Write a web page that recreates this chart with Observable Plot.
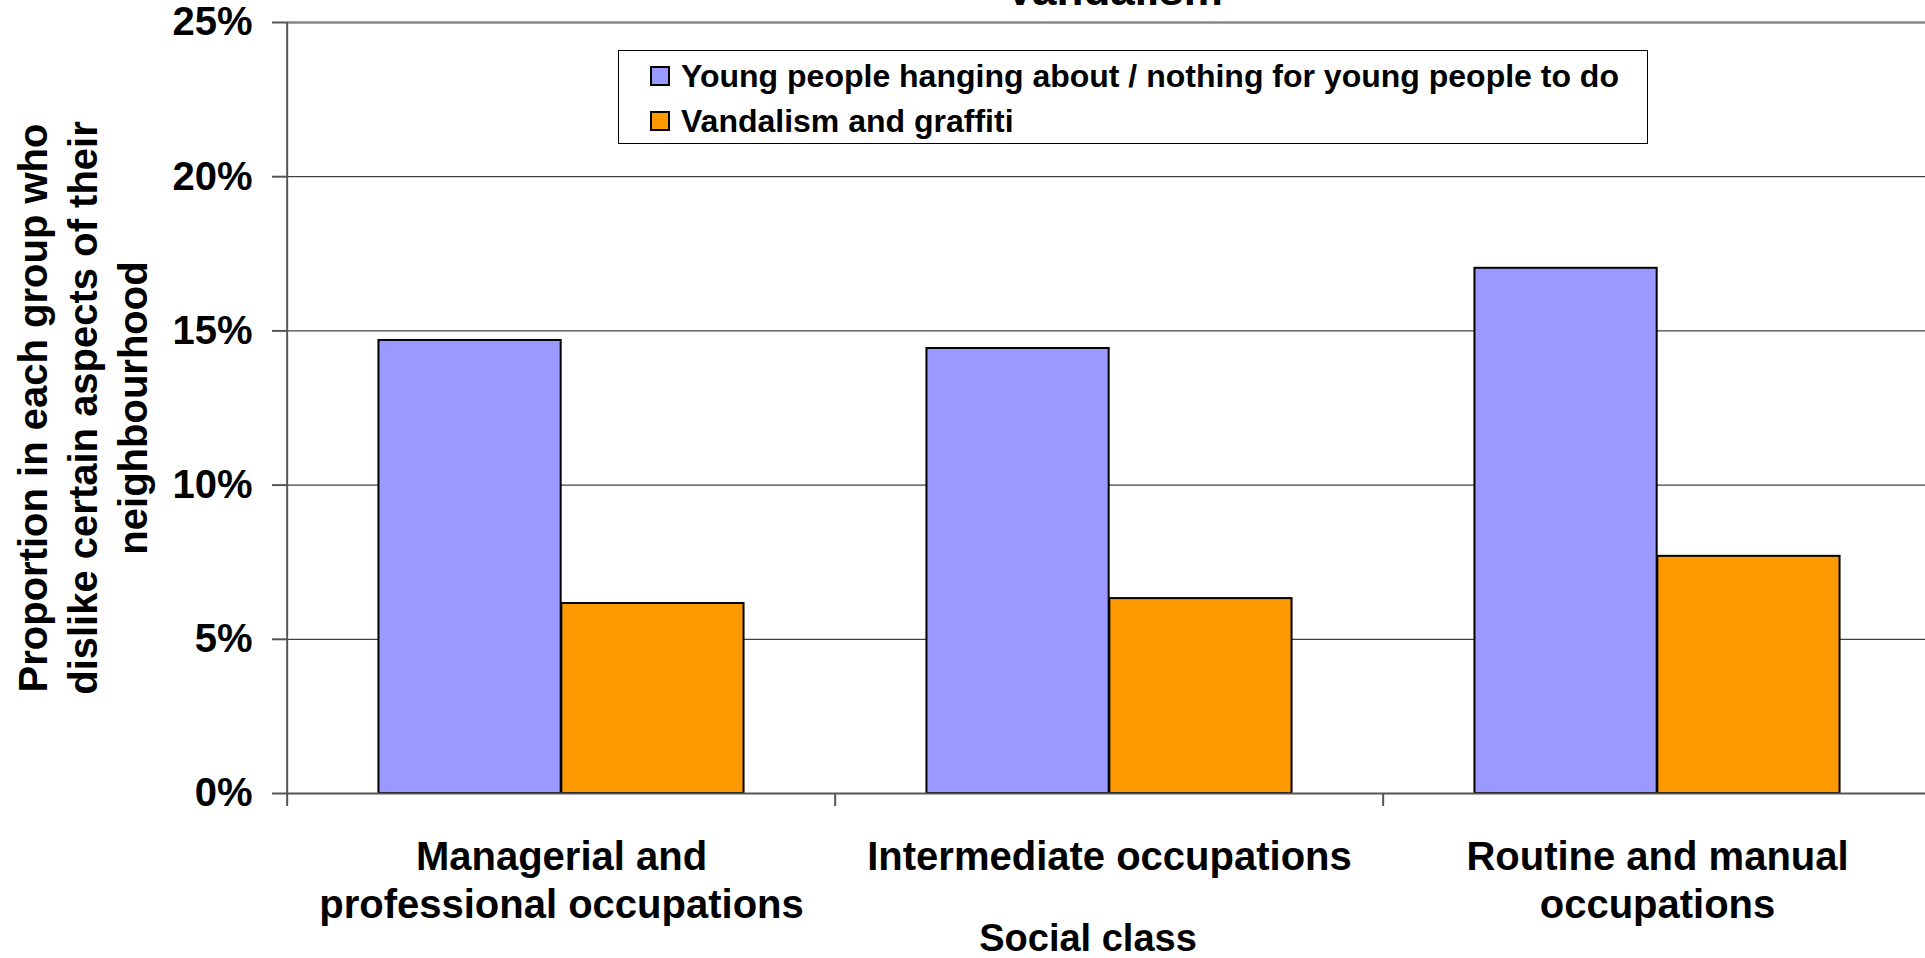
<!DOCTYPE html>
<html>
<head>
<meta charset="utf-8">
<script src="https://cdn.jsdelivr.net/npm/d3@7"></script>
<script src="https://cdn.jsdelivr.net/npm/@observablehq/plot@0.6"></script>
<style>
  html, body { margin: 0; padding: 0; background: #fff; }
  #wrap { position: relative; width: 1925px; height: 958px; overflow: hidden; font-family: "Liberation Sans", Arial, sans-serif; }
  #wrap svg { display: block; }
  .legend { position: absolute; left: 618px; top: 50px; width: 1028px; height: 92px; border: 1px solid #000; background: #fff; }
  .legend .row { position: absolute; left: 31px; height: 30px; display: flex; align-items: center; font-weight: bold; font-size: 32px; color: #000; white-space: nowrap; }
  .legend .sw { width: 16px; height: 16px; border: 2px solid #000; margin-right: 11px; flex: none; }
</style>
</head>
<body>
<div id="wrap"></div>
<script>
// ---- data ----
const title = "Vandalism";
const categories = ["Managerial", "Intermediate", "Routine"];
const categoryLabels = [
  "Managerial and\nprofessional occupations",
  "Intermediate occupations",
  "Routine and manual\noccupations"
];
const series = [
  "Young people hanging about / nothing for young people to do",
  "Vandalism and graffiti"
];
const youngPeople = [14.69, 14.43, 17.03];
const vandalism = [6.16, 6.32, 7.69];
const yTicks = [0, 5, 10, 15, 20, 25];
const seriesColors = ["#9999FF", "#FF9900"];
const xTitle = "Social class";
const yTitle = "Proportion in each group who\ndislike certain aspects of their\nneighbourhood";

// ---- layout ----
const W = 1925, H = 958;
const mLeft = 286, mTop = 22, mBottom = 165;
const xRange = [286, 1932];
const groupW = (xRange[1] - xRange[0]) / categories.length;
const barW = groupW / 3;
const gap = groupW / 6;
const font = "'Liberation Sans', Arial, Helvetica, sans-serif";

const rows = [];
categories.forEach((c, i) => {
  rows.push({category: c, series: series[0], value: youngPeople[i]});
  rows.push({category: c, series: series[1], value: vandalism[i]});
});

const chart = Plot.plot({
  width: W,
  height: H,
  marginLeft: mLeft,
  marginRight: 0,
  marginTop: mTop,
  marginBottom: mBottom,
  style: {fontFamily: font, background: "#fff", color: "#000", overflow: "hidden"},
  x: {type: "band", domain: categories, range: xRange, padding: 0, label: null},
  y: {domain: [yTicks[0], yTicks[yTicks.length - 1]], label: null},
  color: {domain: series, range: seriesColors},
  marks: [
    // gridlines
    Plot.ruleY(yTicks.filter(t => t > yTicks[0] && t < yTicks[yTicks.length - 1]), {stroke: "#111", strokeWidth: 1}),
    Plot.ruleY([yTicks[yTicks.length - 1]], {stroke: "#888", strokeWidth: 2.5}),
    // bars
    Plot.barY(rows.filter(d => d.series === series[0]), {
      x: "category", y: "value", fill: "series", stroke: "#000", strokeWidth: 2,
      insetLeft: gap, insetRight: gap + barW
    }),
    Plot.barY(rows.filter(d => d.series === series[1]), {
      x: "category", y: "value", fill: "series", stroke: "#000", strokeWidth: 2,
      insetLeft: gap + barW, insetRight: gap
    }),
    // axis lines
    Plot.ruleY([yTicks[0]], {stroke: "#555", strokeWidth: 2}),
    Plot.ruleX([categories[0]], {x: d => d, dx: -groupW / 2, stroke: "#555", strokeWidth: 2}),
    // y axis
    Plot.axisY({
      ticks: yTicks, tickFormat: d => d + "%", tickSize: 14, tickPadding: 20,
      fontSize: 40, fontWeight: "bold", stroke: "#555", strokeWidth: 2, label: null
    }),
    // x boundary ticks
    Plot.axisX({
      ticks: categories, tickFormat: () => "", tickSize: 13, dx: -groupW / 2,
      stroke: "#555", strokeWidth: 2, label: null
    }),
    // category labels
    Plot.text(categories, {
      x: d => d, text: (d, i) => categoryLabels[i], frameAnchor: "bottom",
      lineAnchor: "top", dy: 42, lineHeight: 1.2, fontSize: 40, fontWeight: "bold", fill: "#000"
    }),
    // x title
    Plot.text([xTitle], {
      frameAnchor: "bottom", lineAnchor: "bottom", dy: 157, dx: -18,
      fontSize: 38, fontWeight: "bold", fill: "#000"
    }),
    // y title
    Plot.text([yTitle], {
      frameAnchor: "left", rotate: -90, textAnchor: "middle", lineAnchor: "middle", dx: -206,
      lineHeight: 1.25, fontSize: 40, fontWeight: "bold", fill: "#000"
    }),
    // chart title (clipped at top as in the reference)
    Plot.text([title], {
      frameAnchor: "top", lineAnchor: "bottom", dy: -18, dx: 8,
      fontSize: 44, fontWeight: "bold", fill: "#000"
    })
  ]
});

const wrap = document.getElementById("wrap");
wrap.appendChild(chart);

// legend
const legend = document.createElement("div");
legend.className = "legend";
series.forEach((s, i) => {
  const row = document.createElement("div");
  row.className = "row";
  row.style.top = (10 + i * 45) + "px";
  const sw = document.createElement("span");
  sw.className = "sw";
  sw.style.background = seriesColors[i];
  const label = document.createElement("span");
  label.textContent = s;
  row.appendChild(sw);
  row.appendChild(label);
  legend.appendChild(row);
});
wrap.appendChild(legend);
</script>
</body>
</html>
